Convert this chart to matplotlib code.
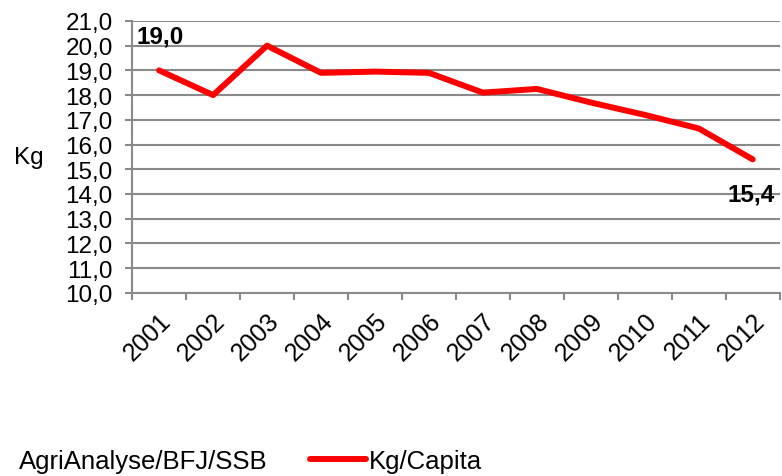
import matplotlib
matplotlib.use("Agg")
from matplotlib import pyplot as plt
from matplotlib.ticker import FuncFormatter

plt.rcParams['font.family'] = ['Liberation Sans', 'DejaVu Sans']

years = ["2001", "2002", "2003", "2004", "2005", "2006",
         "2007", "2008", "2009", "2010", "2011", "2012"]
kg_per_capita = [19.0, 18.0, 20.0, 18.9, 18.95, 18.9,
                 18.1, 18.25, 17.7, 17.2, 16.65, 15.4]
y_ticks = [10, 11, 12, 13, 14, 15, 16, 17, 18, 19, 20, 21]


def comma(v, pos=None):
    return f"{v:.1f}".replace(".", ",")


def main():
    fig = plt.figure(figsize=(7.82, 4.77), dpi=100)
    ax = fig.add_axes([0.169, 0.384, 0.828, 0.57])
    grid = "#8a8a8a"
    fs = 17.5

    x = list(range(len(years)))
    ax.plot(x, kg_per_capita, color="#ff0000", lw=4.3,
            solid_capstyle="round", solid_joinstyle="round",
            label="Kg/Capita", zorder=3)

    ax.set_ylim(10, 21)
    ax.set_yticks(y_ticks)
    ax.yaxis.set_major_formatter(FuncFormatter(comma))
    ax.grid(axis="y", color=grid, lw=1.5)
    ax.set_axisbelow(True)

    ax.set_xlim(-0.5, len(years) - 0.5)
    ax.set_xticks([i - 0.5 for i in range(len(years) + 1)])
    ax.set_xticklabels([])
    ax.set_xticks(x, minor=True)
    ax.set_xticklabels(years, minor=True, rotation=45, ha="right",
                       rotation_mode="anchor", fontsize=18)
    ax.tick_params(axis="x", which="minor", length=0, pad=11)
    ax.tick_params(axis="x", which="major", length=5, color=grid, width=1.5,
                   direction="out")
    ax.tick_params(axis="y", length=5, color=grid, width=1.5, labelsize=fs,
                   pad=9)

    for s in ["top", "right"]:
        ax.spines[s].set_visible(False)
    for s in ["left", "bottom"]:
        ax.spines[s].set_color(grid)
        ax.spines[s].set_linewidth(1.5)

    ax.set_ylabel("Kg", rotation=0, fontsize=fs, labelpad=26, va="center")

    ax.annotate(comma(kg_per_capita[0]), (0, kg_per_capita[0]),
                xytext=(-16, 24.5), textcoords="offset points",
                fontsize=fs, fontweight="bold", va="center", ha="left")
    ax.annotate(comma(kg_per_capita[-1]), (len(years) - 1, kg_per_capita[-1]),
                xytext=(-18, -25), textcoords="offset points",
                fontsize=fs, fontweight="bold", va="center", ha="left")

    fig.text(0.024, 0.031, "AgriAnalyse/BFJ/SSB", fontsize=18.5, va="center")
    fig.legend(loc="center left", bbox_to_anchor=(0.396, 0.031),
               frameon=False, fontsize=18.5, handlelength=2.2,
               handletextpad=0.1, borderaxespad=0, borderpad=0)

    fig.savefig("out.png", dpi=100)


if __name__ == "__main__":
    main()
